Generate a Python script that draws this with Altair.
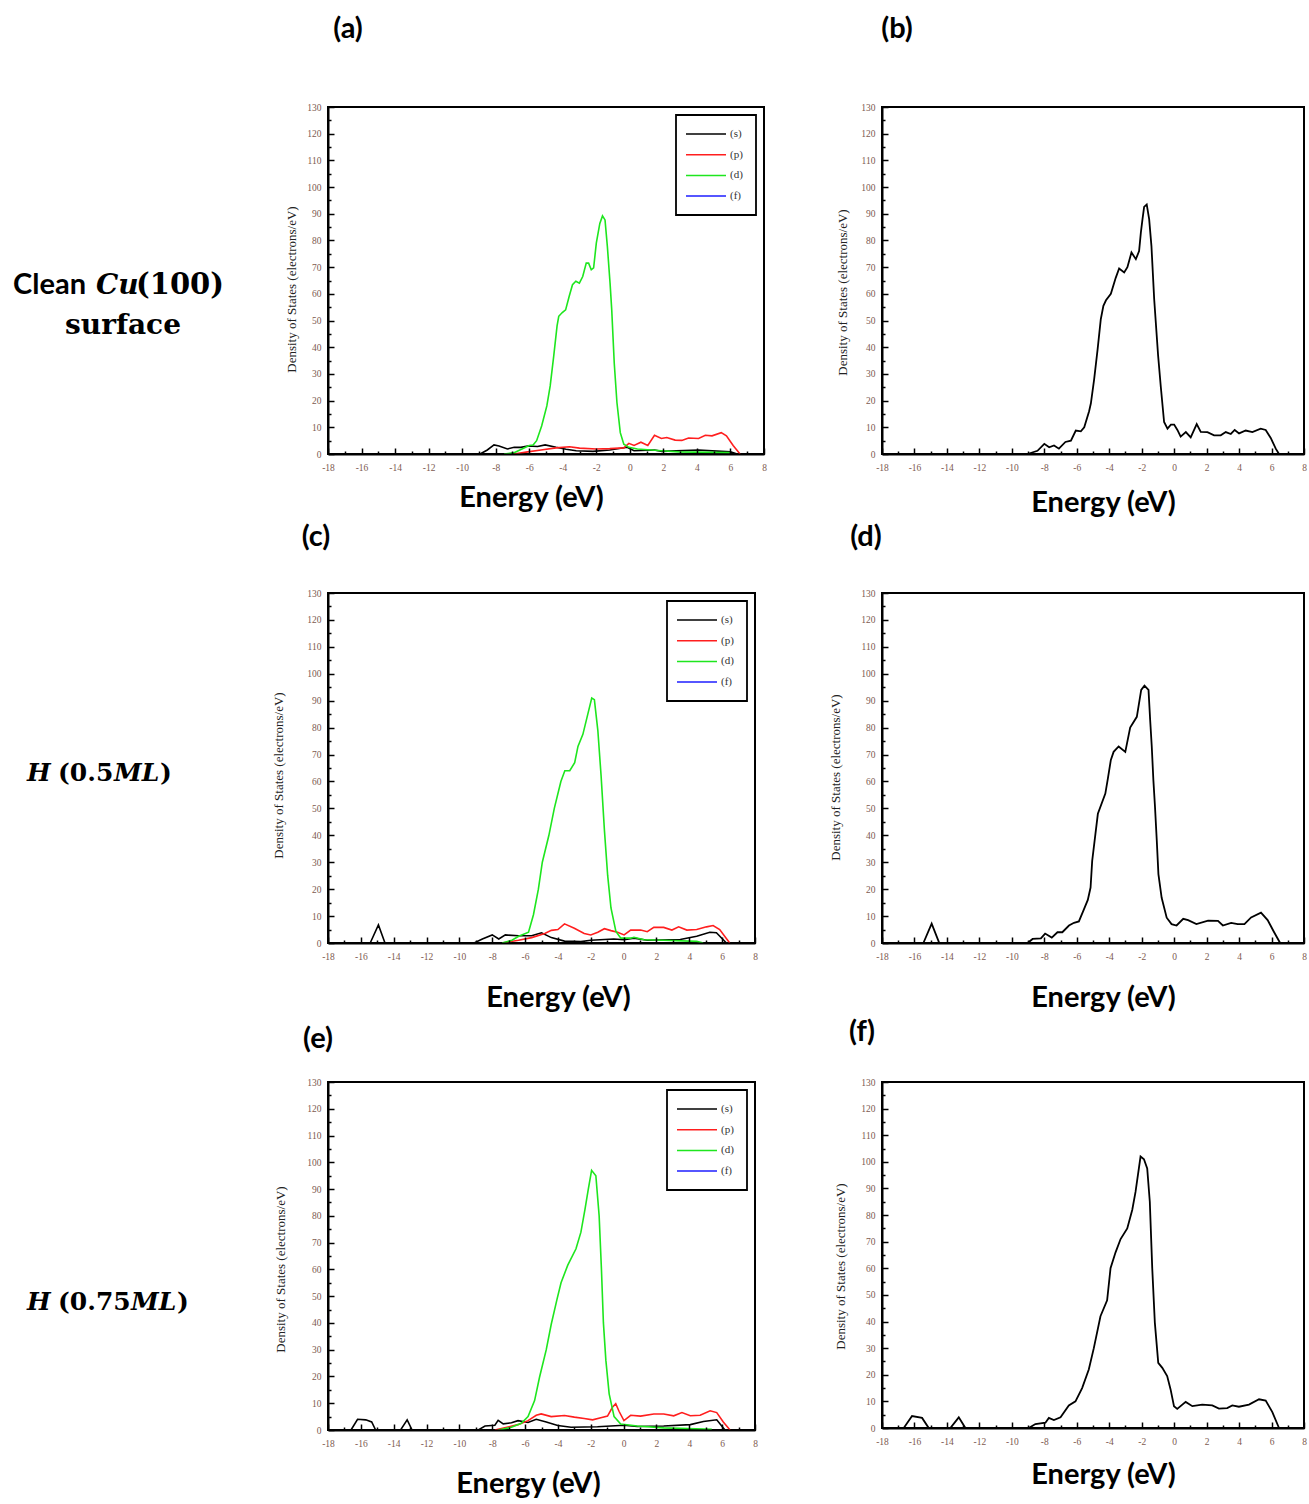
import altair as alt
import pandas as pd

# ---------------- data ----------------
ORBITALS = ["(s)", "(p)", "(d)", "(f)"]
ORB_COLORS = ["#000000", "#ff1e1e", "#1ee61e", "#1e1eff"]

# (a) clean Cu(100) - projected
A_S_E = [-8.93, -8.5, -8.1, -7.8, -7.3, -6.9, -6.5, -6.1, -5.5, -5.05, -4.4, -3.8, -3.2, -2.2, -1.2, -0.16, 0.25, 1.47, 1.9, 4.1, 6.0, 6.4]
A_S_V = [0, 1.5, 3.4, 3.0, 1.9, 2.5, 2.5, 3.0, 2.8, 3.4, 2.5, 1.8, 1.2, 1.0, 1.5, 2.5, 1.2, 1.5, 1.0, 1.5, 0.8, 0]
A_P_E = [-6.9, -6.1, -5.3, -4.4, -3.6, -3.0, -2.0, -1.2, -0.36, -0.06, 0.25, 0.66, 1.07, 1.47, 1.88, 2.2, 2.7, 3.1, 3.5, 4.1, 4.5, 4.9, 5.45, 5.76, 6.16, 6.57]
A_P_V = [0, 0.8, 1.5, 2.3, 2.7, 2.2, 1.9, 2.0, 2.3, 4.0, 3.2, 4.4, 3.2, 7.0, 5.8, 6.2, 5.2, 5.1, 6.0, 5.8, 7.0, 6.8, 8.0, 6.8, 3.2, 0]
A_D_E = [-7.5, -6.9, -6.4, -6.0, -5.77, -5.56, -5.26, -4.95, -4.75, -4.54, -4.34, -4.24, -4.03, -3.83, -3.62, -3.42, -3.22, -3.01, -2.81, -2.60, -2.46, -2.30, -2.16, -2.0, -1.79, -1.63, -1.48, -1.34, -1.18, -1.08, -0.93, -0.77, -0.57, -0.36, -0.06, 0.45, 1.88, 2.9, 5.96]
A_D_V = [0, 0.5, 2.0, 3.2, 3.4, 5.0, 10.5, 18, 25.5, 36.7, 48, 51.6, 53, 54, 59, 63.4, 64.7, 64, 66.5, 71.5, 71.5, 69, 69.7, 79, 86.4, 89.2, 87.7, 77.7, 64, 54, 34, 19.3, 8, 3.7, 2.5, 1.9, 1.2, 0.8, 0.5]
# the f projection stays on the zero line (hidden under the axis in the reference)
A_F_E = []
A_F_V = []

# (b) clean Cu(100) - total
B_E = [-9.03, -8.42, -8.0, -7.7, -7.4, -7.1, -6.7, -6.36, -6.06, -5.75, -5.54, -5.24, -5.13, -4.93, -4.72, -4.52, -4.36, -4.2, -3.9, -3.6, -3.39, -3.08, -2.88, -2.63, -2.36, -2.16, -2.05, -1.95, -1.85, -1.69, -1.54, -1.40, -1.23, -0.99, -0.82, -0.62, -0.41, -0.2, 0.0, 0.2, 0.4, 0.72, 1.02, 1.39, 1.64, 2.05, 2.46, 2.87, 3.18, 3.49, 3.73, 4.0, 4.41, 4.82, 5.33, 5.64, 5.95, 6.26, 6.46]
B_V = [0, 1.2, 3.8, 2.5, 3.2, 2.0, 4.5, 5.0, 8.8, 8.5, 10, 16, 19, 28, 39, 50.5, 55.5, 57.6, 60, 66, 69.5, 68, 70, 75.5, 73, 76, 83, 88, 92.6, 93.5, 88, 78, 58, 37, 25, 12, 9.5, 11, 11, 9, 6.5, 8.2, 6.2, 11.2, 8.3, 8.2, 7, 7, 8.2, 7.5, 9, 7.7, 8.8, 8.2, 9.5, 9, 6, 2, 0]

# (c) H 0.5 ML - projected
C_S_E = [-15.43, -14.93, -14.53, -9.1, -8.6, -8.0, -7.6, -7.2, -6.4, -5.6, -5.0, -4.4, -3.6, -2.6, -2.0, -0.6, 0.03, 0.63, 1.44, 3.45, 4.45, 5.25, 5.65, 6.26]
C_S_V = [0, 6.7, 0, 0, 1.5, 3, 1.5, 3, 2.7, 2.7, 3.8, 2, 0.7, 0.5, 1, 1.5, 1.2, 1.8, 1, 1.3, 2.5, 4, 3.8, 0]
C_P_E = [-7.4, -6.4, -5.6, -4.8, -4.4, -4.0, -3.6, -3.0, -2.4, -2.0, -1.57, -1.17, -0.77, -0.37, 0.03, 0.43, 1.04, 1.44, 1.84, 2.44, 2.94, 3.35, 3.85, 4.45, 5.05, 5.45, 5.85, 6.46]
C_P_V = [0, 1, 2, 3.5, 4.7, 5, 7.1, 5.5, 3.5, 3, 4, 5.3, 4.6, 4, 3, 4.8, 4.8, 4.2, 5.8, 5.8, 4.8, 6, 4.8, 5, 6, 6.5, 5, 0]
C_D_E = [-7.4, -6.8, -6.39, -5.79, -5.49, -5.19, -4.95, -4.55, -4.22, -3.82, -3.58, -3.28, -2.98, -2.78, -2.48, -2.18, -1.94, -1.78, -1.57, -1.37, -1.17, -0.97, -0.77, -0.47, -0.17, 0.43, 0.63, 1.24, 2.44, 4.45, 4.85]
C_D_V = [0, 1, 2.5, 4, 10.5, 20, 30, 40, 50, 60, 64, 64, 67, 73, 77.5, 85, 91, 90.4, 79, 62, 42, 25, 13, 4.3, 1.8, 1.8, 2.1, 1.2, 1.0, 0.6, 0]
C_F_E = []
C_F_V = []

# (d) H 0.5 ML - total
D_E = [-15.45, -14.94, -14.47, -9.03, -8.72, -8.21, -7.95, -7.54, -7.19, -6.89, -6.48, -6.17, -5.87, -5.56, -5.32, -5.15, -5.05, -4.85, -4.7, -4.24, -4.1, -3.9, -3.73, -3.42, -3.01, -2.71, -2.30, -2.03, -1.83, -1.58, -1.48, -1.38, -1.28, -1.18, -1.07, -0.97, -0.77, -0.46, -0.16, 0.15, 0.56, 0.86, 1.37, 2.09, 2.70, 3.0, 3.51, 3.92, 4.33, 4.74, 5.35, 5.76, 6.16, 6.53]
D_V = [0, 7.2, 0, 0, 1.5, 1.7, 3.5, 2, 4, 4, 6.5, 7.5, 8, 12.5, 16, 20.6, 30.5, 40.5, 48, 55.5, 60.5, 68, 71, 73, 71, 80, 84, 94, 95.6, 94, 83, 73, 60.5, 50.5, 38, 25.6, 16.8, 9.4, 7, 6.5, 9, 8.5, 7, 8.3, 8.2, 6.5, 7.5, 7, 7, 9.5, 11.3, 8.5, 4, 0]

# (e) H 0.75 ML - projected
E_S_E = [-16.6, -16.2, -15.7, -15.34, -15.1, -13.58, -13.18, -12.88, -8.85, -8.44, -7.84, -7.64, -7.33, -6.83, -6.43, -5.82, -5.32, -4.71, -4.01, -3.20, -1.59, -0.78, 0.02, 0.83, 2.44, 4.06, 4.86, 5.67, 6.17]
E_S_V = [0, 4, 3.8, 3, 0, 0, 3.8, 0, 0, 1.5, 1.8, 3.6, 2.3, 2.7, 3.5, 2.8, 4, 3, 1.7, 1, 1.2, 1.5, 1.8, 1.3, 1.5, 2.0, 3.2, 3.8, 0]
E_P_E = [-7.84, -6.43, -5.82, -5.32, -5.02, -4.41, -3.6, -3.0, -2.4, -1.89, -1.39, -0.98, -0.68, -0.48, -0.28, 0.02, 0.43, 1.03, 1.84, 2.44, 3.05, 3.55, 4.06, 4.66, 5.27, 5.67, 6.07, 6.48]
E_P_V = [0, 2, 3.5, 5.5, 6, 5, 5.4, 4.8, 4.3, 3.8, 4.6, 5.2, 8.5, 9.8, 7, 3.5, 5.5, 5.2, 6, 6, 5.3, 6.5, 5.3, 5.5, 7.2, 6.5, 3, 0]
E_D_E = [-7.64, -6.83, -6.23, -5.82, -5.42, -5.12, -4.71, -4.41, -4.05, -3.81, -3.40, -2.90, -2.60, -2.35, -2.15, -1.95, -1.69, -1.49, -1.35, -1.23, -1.08, -0.88, -0.58, -0.18, 0.83, 2.44, 5.37]
E_D_V = [0, 1, 2.5, 5, 11, 19.7, 30, 39.4, 49, 55, 61.6, 67.7, 73.9, 82.5, 90, 97, 95, 80, 60, 40, 26, 13.5, 5, 2.2, 1.5, 0.8, 0.3]
E_F_E = []
E_F_V = []

# (f) H 0.75 ML - total
F_E = [-16.66, -16.15, -15.53, -15.12, -13.79, -13.27, -12.86, -8.96, -8.55, -7.93, -7.72, -7.41, -7.0, -6.49, -6.08, -5.67, -5.26, -4.95, -4.54, -4.13, -3.92, -3.61, -3.30, -2.89, -2.58, -2.38, -2.07, -1.86, -1.66, -1.5, -1.35, -1.19, -0.98, -0.73, -0.43, -0.22, -0.01, 0.19, 0.71, 1.12, 1.73, 2.35, 2.76, 3.27, 3.58, 3.99, 4.61, 5.23, 5.64, 6.05, 6.46]
F_V = [0, 4.5, 3.8, 0, 0, 4, 0, 0, 1.5, 2, 3.8, 3, 4, 8.5, 10, 15, 22, 30, 42, 48, 60, 66, 71, 75, 82, 88.7, 102, 101, 97.5, 85, 60, 39.6, 24.5, 22.6, 19.5, 14.5, 8.2, 7.2, 9.8, 8.2, 8.8, 8.5, 7.3, 7.5, 8.5, 8, 8.8, 10.8, 10.3, 6, 0]

# axis ticks / labels
X_MAJOR = list(range(-18, 9, 2))
X_MINOR = list(range(-17, 8, 2))
Y_MAJOR = list(range(0, 131, 10))
Y_MINOR = list(range(5, 130, 10))
X_TITLE = "Energy (eV)"
Y_TITLE = "Density of States (electrons/eV)"
PANEL_LETTERS = ["(a)", "(b)", "(c)", "(d)", "(e)", "(f)"]

ROW1_TEXT = ["Clean", "Cu", "(100)", "surface"]
ROW2_TEXT = ["H", "(0.5", "ML", ")"]
ROW3_TEXT = ["H", "(0.75", "ML", ")"]

TICK_FONT = "Liberation Serif"
TICK_COLOR = "#7d5a50"
SANS = "Lato"
SERIF = "DejaVu Serif"


def major_x(tx, ty):
    return alt.Axis(orient="bottom", values=X_MAJOR, labelExpr="datum.value + ''",
                    tickSize=alt.ExprRef(expr="-6"), tickWidth=1.5, tickColor="black",
                    domainColor="black", domainWidth=2, labelFont=TICK_FONT, labelFontSize=9.5,
                    labelColor=TICK_COLOR, labelPadding=14, labelFlush=False, labelOverlap=False,
                    grid=False, zindex=1, title=X_TITLE, titleFont=SANS, titleFontSize=29,
                    titleFontWeight="bold", titleColor="black", titleX=tx, titleY=ty,
                    titleBaseline="middle")


def major_y(tx, ty):
    return alt.Axis(orient="left", values=Y_MAJOR, tickSize=alt.ExprRef(expr="-6"), tickWidth=1.5,
                    tickColor="black", domainColor="black", domainWidth=2, labelFont=TICK_FONT,
                    labelFontSize=9.5, labelColor=TICK_COLOR, labelPadding=13, labelFlush=False,
                    labelOverlap=False, grid=False, zindex=1, title=Y_TITLE, titleFont=TICK_FONT,
                    titleFontSize=13, titleFontWeight="normal", titleColor="#222222",
                    titleX=tx, titleY=ty, titleBaseline="middle", titleAngle=270)


MINOR_X = alt.Axis(orient="bottom", values=X_MINOR, tickSize=alt.ExprRef(expr="-3"), tickWidth=1.5,
                   tickColor="black", labels=False, domain=False, grid=False, zindex=1, title=None)
MINOR_Y = alt.Axis(orient="left", values=Y_MINOR, tickSize=alt.ExprRef(expr="-3"), tickWidth=1.5,
                   tickColor="black", labels=False, domain=False, grid=False, zindex=1, title=None)

LEGEND = alt.Legend(title=None, orient="top-right", offset=8, symbolType="M-4,0H4", symbolSize=100,
                    symbolStrokeWidth=1.5, symbolOffset=11, labelOffset=18, rowPadding=9.7, padding=13,
                    strokeColor="black", fillColor="white", labelFont=TICK_FONT, labelFontSize=11,
                    labelColor="#333333")


def panel(series, w, h, letter, tdx, toff, ex, ey, yx, yy, legend):
    rows = []
    for name, es, vs in series:
        for e, v in zip(es, vs):
            rows.append({"E": e, "DOS": v, "orb": name})
    df = pd.DataFrame(rows)
    xs = alt.Scale(domain=[-18, 8], nice=False, zero=False)
    ys = alt.Scale(domain=[0, 130], nice=False)
    base = alt.Chart(df)
    minor = base.mark_line(strokeOpacity=0).encode(
        x=alt.X("E:Q", scale=xs, axis=MINOR_X),
        y=alt.Y("DOS:Q", scale=ys, axis=MINOR_Y),
        detail="orb:N")
    enc = dict(x=alt.X("E:Q", scale=xs, axis=major_x(ex, ey)),
               y=alt.Y("DOS:Q", scale=ys, axis=major_y(yx, yy)))
    if legend:
        main = base.mark_line(strokeWidth=1.6).encode(
            color=alt.Color("orb:N", scale=alt.Scale(domain=ORBITALS, range=ORB_COLORS), legend=LEGEND),
            **enc)
    else:
        main = base.mark_line(strokeWidth=1.8, color="black").encode(detail="orb:N", **enc)
    return alt.layer(minor, main).resolve_axis(x="independent", y="independent").properties(
        width=w, height=h,
        title=alt.TitleParams(text=letter, anchor="start", frame="group", align="center", dx=tdx,
                              offset=toff, baseline="middle", font=SANS, fontSize=29,
                              fontWeight="bold", color="black"))


def text_part(t, font, size, style, align, x, y):
    return alt.Chart(pd.DataFrame({"t": [t]})).mark_text(
        font=font, fontSize=size, fontWeight="bold", fontStyle=style, align=align,
        baseline="alphabetic", color="black").encode(text="t:N", x=alt.value(x), y=alt.value(y))


def label_cell(parts, w, h):
    return alt.layer(*parts).properties(width=w, height=h, view=alt.ViewBackground(strokeOpacity=0))


LAB_W = 210
lab1 = label_cell([
    text_part(ROW1_TEXT[0], SANS, 29, "normal", "right", 86, 187),
    text_part(ROW1_TEXT[1], SERIF, 28, "italic", "left", 96, 187),
    text_part(ROW1_TEXT[2], SERIF, 29, "normal", "left", 136, 187),
    text_part(ROW1_TEXT[3], SERIF, 28, "normal", "center", 123, 227),
], LAB_W, 347)
lab2 = label_cell([
    text_part(ROW2_TEXT[0], SERIF, 25, "italic", "left", 27, 188),
    text_part(ROW2_TEXT[1], SERIF, 25, "normal", "left", 58, 188),
    text_part(ROW2_TEXT[2], SERIF, 25, "italic", "left", 114, 188),
    text_part(ROW2_TEXT[3], SERIF, 25, "normal", "left", 160, 188),
], LAB_W, 350)
lab3 = label_cell([
    text_part(ROW3_TEXT[0], SERIF, 25, "italic", "left", 27, 228),
    text_part(ROW3_TEXT[1], SERIF, 25, "normal", "left", 58, 228),
    text_part(ROW3_TEXT[2], SERIF, 25, "italic", "left", 131, 228),
    text_part(ROW3_TEXT[3], SERIF, 25, "normal", "left", 177, 228),
], LAB_W, 348)

pa = panel([("(f)", A_F_E, A_F_V), ("(s)", A_S_E, A_S_V), ("(p)", A_P_E, A_P_V), ("(d)", A_D_E, A_D_V)],
           436, 347, PANEL_LETTERS[0], 20, 44, 203, 43, -37, 182, True)
pb = panel([("tot", B_E, B_V)], 422, 347, PANEL_LETTERS[1], 15, 44, 221, 48, -40, 185, False)
pc = panel([("(f)", C_F_E, C_F_V), ("(s)", C_S_E, C_S_V), ("(p)", C_P_E, C_P_V), ("(d)", C_D_E, C_D_V)],
           427, 350, PANEL_LETTERS[2], -12, 22, 230, 54, -50, 182, True)
pd_ = panel([("tot", D_E, D_V)], 422, 350, PANEL_LETTERS[3], -16, 22, 221, 54, -47, 184, False)
pe = panel([("(f)", E_F_E, E_F_V), ("(s)", E_S_E, E_S_V), ("(p)", E_P_E, E_P_V), ("(d)", E_D_E, E_D_V)],
           427, 348, PANEL_LETTERS[4], -10, 9, 200, 53, -48, 187, True)
pf = panel([("tot", F_E, F_V)], 422, 346, PANEL_LETTERS[5], -20, 16, 221, 46, -42, 184, False)

chart = alt.concat(lab1, pa, pb, lab2, pc, pd_, lab3, pe, pf, columns=3,
                   spacing={"row": 139, "column": 118}, align="none", bounds="flush").resolve_scale(
    color="independent").resolve_legend(color="independent").properties(
    padding={"left": 0, "top": 14, "right": 0, "bottom": 0}).configure(
    background="white").configure_view(stroke="black", strokeWidth=2).configure_legend(strokeWidth=1.8)

chart.save("out.html", embed_options={"renderer": "svg", "actions": False})
